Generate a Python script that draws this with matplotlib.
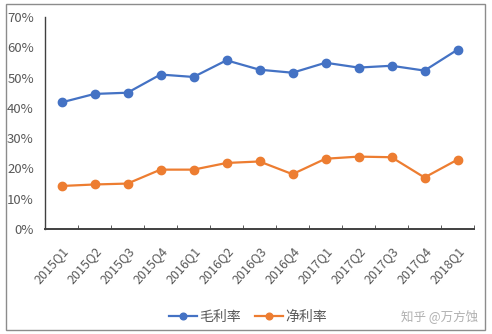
import matplotlib.pyplot as plt
from matplotlib.patches import Rectangle
from matplotlib.ticker import FixedLocator, PercentFormatter

plt.rcParams['font.family'] = ['Noto Sans CJK SC', 'DejaVu Sans']

# quarters on the x axis
quarters = ['2015Q1', '2015Q2', '2015Q3', '2015Q4', '2016Q1', '2016Q2', '2016Q3',
            '2016Q4', '2017Q1', '2017Q2', '2017Q3', '2017Q4', '2018Q1']
# gross margin (%)
gross = [41.8, 44.6, 45.0, 51.0, 50.2, 55.7, 52.6, 51.6, 54.9, 53.3, 53.9, 52.3, 59.2]
# net margin (%)
net = [14.2, 14.7, 15.0, 19.6, 19.6, 21.8, 22.3, 18.1, 23.2, 23.9, 23.7, 17.0, 22.9]

blue = '#4472C4'
orange = '#ED7D31'
textc = '#595959'

fig = plt.figure(figsize=(4.92, 3.34), dpi=100)
# outer chart border
fig.patches.append(Rectangle((6 / 492, 4 / 334), 479 / 492, 326 / 334,
                             transform=fig.transFigure, fill=False,
                             edgecolor='#8c8c8c', linewidth=1.0))

ax = fig.add_axes([45 / 492, 1 - 229 / 334, 429 / 492, 212 / 334])
x = list(range(len(quarters)))
ax.plot(x, gross, color=blue, lw=1.6, marker='o', ms=6, label='毛利率')
ax.plot(x, net, color=orange, lw=1.6, marker='o', ms=6, label='净利率')

ax.set_xlim(-0.5, len(quarters) - 0.5)
ax.set_ylim(0, 70)
ax.set_yticks(range(0, 71, 10))
ax.yaxis.set_major_formatter(PercentFormatter(decimals=0))
ax.tick_params(axis='y', length=0, pad=8, labelsize=9.5, labelcolor=textc)

ax.set_xticks(x)
ax.set_xticklabels(quarters, rotation=48, ha='right', rotation_mode='anchor')
ax.tick_params(axis='x', which='major', length=0, pad=11, labelsize=9, labelcolor=textc)
ax.xaxis.set_minor_locator(FixedLocator([i + 0.5 for i in range(-1, len(quarters))]))
ax.tick_params(axis='x', which='minor', direction='in', length=3, color='#404040')

for s in ['top', 'right']:
    ax.spines[s].set_visible(False)
ax.spines['bottom'].set_color('#404040')
ax.spines['bottom'].set_linewidth(1.4)
ax.spines['left'].set_color('#404040')
ax.spines['left'].set_linewidth(1.0)

fig.legend(loc='center', bbox_to_anchor=(248 / 492, 1 - 317 / 334), ncol=2,
           frameon=False, fontsize=10, handlelength=2.0, columnspacing=1.0,
           handletextpad=0.2, markerscale=0.8, labelcolor=textc)

fig.text(478 / 492, 1 - 316 / 334, '知乎 @万方蚀', ha='right', va='center',
         fontsize=9, color='#b0b0b0')

fig.savefig('out.png', dpi=100)
